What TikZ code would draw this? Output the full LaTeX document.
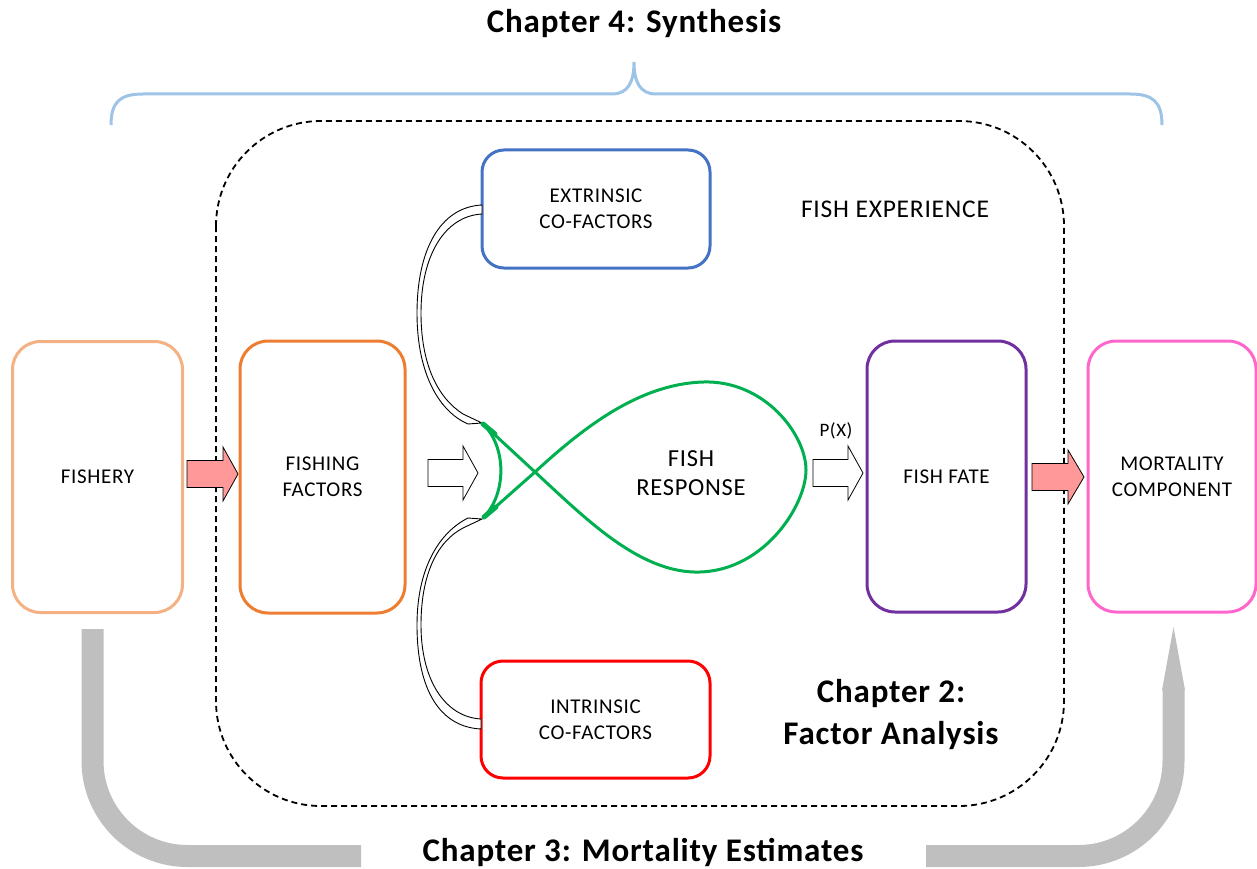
\documentclass[tikz,border=0pt]{standalone}
\usepackage{fontspec}
\setmainfont{Carlito}
\newfontfamily\lblfont[LetterSpace=3]{Carlito}
\newfontfamily\chapfont[LetterSpace=2.5]{Carlito}
\definecolor{cFishery}{HTML}{F4B183}
\definecolor{cFishing}{HTML}{ED7D31}
\definecolor{cExtr}{HTML}{4472C4}
\definecolor{cIntr}{HTML}{FF0000}
\definecolor{cFate}{HTML}{7030A0}
\definecolor{cMort}{HTML}{FF66CC}
\definecolor{cGreen}{HTML}{00B050}
\definecolor{cBrace}{HTML}{9DC3E6}
\definecolor{cGrey}{HTML}{BFBFBF}
\definecolor{cPink}{HTML}{FF9999}
\tikzset{
  box/.style={draw, line width=3pt, fill=white, align=center, inner sep=0pt,
    font=\lblfont\fontsize{21}{26}\selectfont},
  tallbox/.style={box, rounded corners=28pt},
  smallbox/.style={box, rounded corners=22pt},
  lbl/.style={align=center, inner sep=0pt, font=\lblfont\fontsize{21}{26}\selectfont},
  chap/.style={align=center, inner sep=0pt, font=\chapfont\bfseries\fontsize{33}{42}\selectfont},
  blockarrow/.style={draw=black, line width=0.8pt, line join=miter},
  band/.style={draw=black, line width=0.9pt, fill=white},
  fish/.style={draw=cGreen, line width=3pt},
  greyband/.style={draw=cGrey, line width=22pt, rounded corners=95pt},
}
\newcommand{\blockarr}[5]{% style, x0, x1, yc, headstart
  \draw[#1] (#2,#4-13.5) -- (#5,#4-13.5) -- (#5,#4-27) -- (#3,#4) -- (#5,#4+27) -- (#5,#4+13.5) -- (#2,#4+13.5) -- cycle;}
\begin{document}
\begin{tikzpicture}[x=1pt,y=-1pt]
\useasboundingbox (0,0) rectangle (1257,869);

% titles
\node[chap] (t4) at (634,24) {Chapter 4: Synthesis};
\node[chap] (t3) at (643,852) {Chapter 3: Mortality Estimates};

% brace
\draw[cBrace, line width=3pt] (111,125) .. controls (111,102) and (120,94) .. (143,94)
  -- (612,94) .. controls (628,94) and (634,82) .. (634,62)
  .. controls (634,82) and (640,94) .. (656,94)
  -- (1130,94) .. controls (1153,94) and (1162,102) .. (1162,125);

% dashed frame
\draw[dashed, dash pattern=on 6pt off 4pt, line width=1.8pt, rounded corners=105pt]
  (216,121) rectangle (1064,806);

% grey arrows
\draw[greyband] (92.5,629) -- (92.5,856) -- (361,856);
\draw[greyband] (926,856) -- (1173.5,856) -- (1173.5,689);
\fill[cGrey] (1162,690) -- (1173.5,627) -- (1185,690) -- cycle;

% boxes
\node[tallbox, draw=cFishery, minimum width=170pt, minimum height=271pt] (fishery) at (97.5,477) {FISHERY};
\node[tallbox, draw=cFishing, minimum width=165pt, minimum height=272pt] (fishing) at (322.5,477) {FISHING\\FACTORS};
\node[smallbox, draw=cExtr, minimum width=228pt, minimum height=118pt] (extr) at (596,209) {EXTRINSIC\\CO-FACTORS};
\node[smallbox, draw=cIntr, minimum width=229pt, minimum height=117pt] (intr) at (595.5,719.5) {INTRINSIC\\CO-FACTORS};
\node[tallbox, draw=cFate, minimum width=159pt, minimum height=271pt] (fate) at (946.5,476.5) {FISH FATE};
\node[tallbox, draw=cMort, minimum width=168pt, minimum height=271pt] (mort) at (1172,476.5) {MORTALITY\\COMPONENT};

% labels
\node[lbl, font=\lblfont\fontsize{25.5}{29}\selectfont] (exp) at (895,209) {FISH EXPERIENCE};
\node[lbl, font=\lblfont\fontsize{24.5}{29}\selectfont] (resp) at (691,473) {FISH\\RESPONSE};
\node[lbl, font=\lblfont\fontsize{19}{20}\selectfont] (px) at (836,431) {P(X)};
\node[chap] (t2) at (891,715) {Chapter 2:\\Factor Analysis};

% block arrows
\blockarr{blockarrow, fill=cPink}{187}{238}{474}{223}
\blockarr{blockarrow, fill=cPink}{1032}{1084}{477}{1068}
\blockarr{blockarrow, fill=white}{428}{478}{473}{463}
\blockarr{blockarrow, fill=white}{813}{863}{473}{848}

% curved hollow arrows
\draw[band] (482,205) .. controls (440,207) and (417,250) .. (417,313)
  .. controls (417,375) and (440,412) .. (468,424) -- (482,423) -- (463,414)
  .. controls (438,398) and (421,365) .. (421,313)
  .. controls (421,255) and (445,216) .. (482,214) -- cycle;
\draw[band] (481,729) .. controls (440,727) and (417,690) .. (417,625)
  .. controls (417,567) and (440,532) .. (468,518) -- (482,519) -- (463,528)
  .. controls (438,541) and (421,573) .. (421,625)
  .. controls (421,680) and (445,717) .. (481,719) -- cycle;

% fish response curve
\draw[fish, line join=round] (482,423) -- (535,472)
  .. controls (585,518) and (640,574) .. (700,572)
  .. controls (765,570) and (806,505) .. (806,470)
  .. controls (806,435) and (765,380) .. (703,382)
  .. controls (640,384) and (585,426) .. (535,472) -- (483,518);
\draw[fish] (482,423) .. controls (507,446) and (507,494) .. (483,518);
\draw[cGreen, line width=5pt, line cap=round] (483,424) -- (495,434);
\draw[cGreen, line width=5pt, line cap=round] (484,517) -- (496,507);
\end{tikzpicture}
\end{document}
